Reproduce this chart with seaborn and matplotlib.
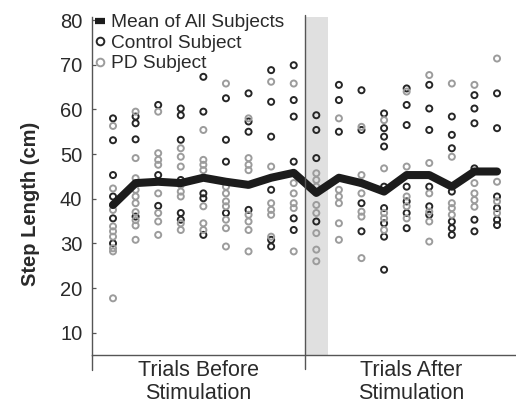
import matplotlib
matplotlib.use("Agg")
import matplotlib.pyplot as plt
import seaborn as sns
import pandas as pd
from matplotlib.lines import Line2D

sns.set_style("white")
plt.rcParams['font.family'] = ['Liberation Sans', 'DejaVu Sans']

# ---- data ----
trials = list(range(1, 19))  # 9 before, 9 after stimulation
mean_all = [38.6, 43.5, 43.8, 43.5, 44.7, 43.8, 43.1, 44.7, 45.8,
            41.3, 44.7, 43.5, 41.6, 45.3, 45.3, 42.7, 46.1, 46.1]

control_vals = [
    [58.0, 53.1, 45.3, 40.5, 35.6, 30.0],
    [58.4, 56.9, 53.3, 36.0],
    [61.0, 45.3, 38.4],
    [60.2, 58.7, 53.2, 44.2, 36.8, 35.3],
    [67.3, 59.5, 41.2, 40.1, 31.9],
    [62.5, 53.2, 48.3, 36.8],
    [63.6, 57.3, 55.0, 37.5],
    [68.8, 61.7, 53.9, 42.0, 30.8, 29.3],
    [69.9, 62.1, 58.4, 48.3, 35.6, 33.0],
    [58.7, 55.4, 49.1, 34.9],
    [65.5, 62.1, 55.0],
    [64.3, 55.4, 39.0, 32.7],
    [59.1, 55.8, 53.9, 51.7, 42.7, 37.9, 34.5, 31.5, 24.1],
    [64.7, 61.0, 56.5, 42.7, 39.4, 36.8, 33.4],
    [65.5, 60.2, 55.4, 42.7, 38.3, 36.4],
    [58.4, 54.3, 51.3, 41.6, 34.9, 33.4, 31.9],
    [63.2, 60.2, 56.9, 46.8, 35.3, 32.7],
    [63.6, 55.8, 40.5, 37.9, 35.3, 34.1],
]
pd_vals = [
    [56.3, 42.3, 38.6, 37.5, 33.8, 32.7, 31.5, 28.9, 28.2, 17.7],
    [59.5, 49.1, 44.6, 42.0, 40.5, 39.0, 37.0, 35.2, 34.0, 30.8],
    [59.5, 50.2, 48.7, 47.6, 41.2, 36.8, 34.9, 31.9],
    [51.3, 49.4, 47.2, 43.1, 41.6, 40.5, 34.5, 33.0],
    [55.4, 48.7, 47.6, 46.4, 38.3, 34.5, 33.0],
    [65.8, 42.7, 41.2, 39.4, 38.3, 35.3, 33.4, 29.3],
    [58.0, 49.1, 47.6, 46.4, 36.4, 34.9, 33.0, 28.2],
    [66.2, 47.2, 39.0, 37.5, 36.4, 31.5],
    [65.8, 43.5, 41.2, 39.0, 37.9, 28.2],
    [45.7, 44.2, 42.7, 38.6, 36.8, 32.3, 28.6, 26.0],
    [58.0, 42.0, 40.5, 39.0, 34.5, 30.8],
    [56.1, 45.3, 43.5, 41.2, 37.1, 36.0, 26.7],
    [57.6, 46.8, 36.8, 35.6, 33.0],
    [64.0, 47.2, 40.5, 38.3, 35.6],
    [67.7, 48.0, 41.2, 37.1, 34.9, 30.4],
    [65.8, 49.4, 39.0, 37.9, 36.4],
    [65.5, 43.5, 41.2, 39.7, 38.2],
    [71.4, 43.8, 39.4, 36.8],
]
group_labels = ["Trials Before\nStimulation", "Trials After\nStimulation"]
legend_labels = ["Mean of All Subjects", "Control Subject", "PD Subject"]
y_ticks = [10, 20, 30, 40, 50, 60, 70, 80]

# ---- long-form tables ----
rows = []
for i, t in enumerate(trials):
    for v in control_vals[i]:
        rows.append((i, v, "Control"))
    for v in pd_vals[i]:
        rows.append((i, v, "PD"))
df = pd.DataFrame(rows, columns=["pos", "value", "group"])
df_mean = pd.DataFrame({"pos": list(range(len(trials))), "value": mean_all})

W, H = 516, 412
fig = plt.figure(figsize=(W / 100, H / 100), dpi=100)
ax = fig.add_axes([92 / W, 1 - 355 / H, (516 - 92) / W, (355 - 17) / H])

ctrl_col = "#262626"
pd_col = "#9c9c9c"
txt_col = "#2a2a2a"

# shaded band right after stimulation
ax.axvspan(8.5, 9.52, color="#e0e0e0", lw=0, zorder=0)

sns.scatterplot(data=df[df.group == "Control"], x="pos", y="value", ax=ax,
                marker="o", s=19, facecolors="none", edgecolor=ctrl_col,
                linewidth=1.4, zorder=2, legend=False)
sns.scatterplot(data=df[df.group == "PD"], x="pos", y="value", ax=ax,
                marker="o", s=19, facecolors="none", edgecolor=pd_col,
                linewidth=1.4, zorder=2, legend=False)
sns.lineplot(data=df_mean, x="pos", y="value", ax=ax, color="#1c1c1c",
             lw=5.8, zorder=3, legend=False, solid_joinstyle="round",
             solid_capstyle="round")

ax.set_xlim(-0.93, 17.84)
ax.set_ylim(5, 80.7)
ax.set_xticks([])
ax.set_yticks(y_ticks)
ax.tick_params(axis="y", direction="in", length=3, width=0.9, colors="#555555",
               labelsize=14.5, labelcolor=txt_col, pad=7, left=True)
for sp in ["top", "right"]:
    ax.spines[sp].set_visible(False)
for sp in ["left", "bottom"]:
    ax.spines[sp].set_color("#555555")
    ax.spines[sp].set_linewidth(1.0)

# extend left axis and divider below the x axis
ax.plot([-0.93, -0.93], [0, -0.045], transform=ax.get_xaxis_transform(),
        color="#555555", lw=1.0, clip_on=False)
ax.plot([8.5, 8.5], [1.005, -0.04], transform=ax.get_xaxis_transform(),
        color="#555555", lw=1.0, clip_on=False, zorder=4)

ax.set_xlabel("")
ax.set_ylabel("Step Length (cm)", fontsize=14.5, fontweight="bold", color=txt_col)
ax.yaxis.set_label_coords(-0.123, 0.447)

# group labels under the axis
ax.text(3.78, -0.015, group_labels[0], transform=ax.get_xaxis_transform(),
        ha="center", va="top", fontsize=15.5, color=txt_col, linespacing=1.15)
ax.text(13.2, -0.015, group_labels[1], transform=ax.get_xaxis_transform(),
        ha="center", va="top", fontsize=15.5, color=txt_col, linespacing=1.15)

handles = [
    Line2D([0], [0], color="#1c1c1c", lw=4.5, solid_capstyle="butt"),
    Line2D([0], [0], ls="none", marker="o", ms=5.5, mfc="none", mec=ctrl_col, mew=1.4),
    Line2D([0], [0], ls="none", marker="o", ms=5.5, mfc="none", mec=pd_col, mew=1.4),
]
ax.legend(handles, legend_labels, loc="upper left", frameon=False,
          bbox_to_anchor=(95 / W, 1 - 14 / H), bbox_transform=fig.transFigure,
          fontsize=13.8, handlelength=0.5, handletextpad=0.35, labelspacing=0.16,
          borderpad=0, borderaxespad=0, labelcolor=txt_col)

fig.savefig("out.png", dpi=100)
